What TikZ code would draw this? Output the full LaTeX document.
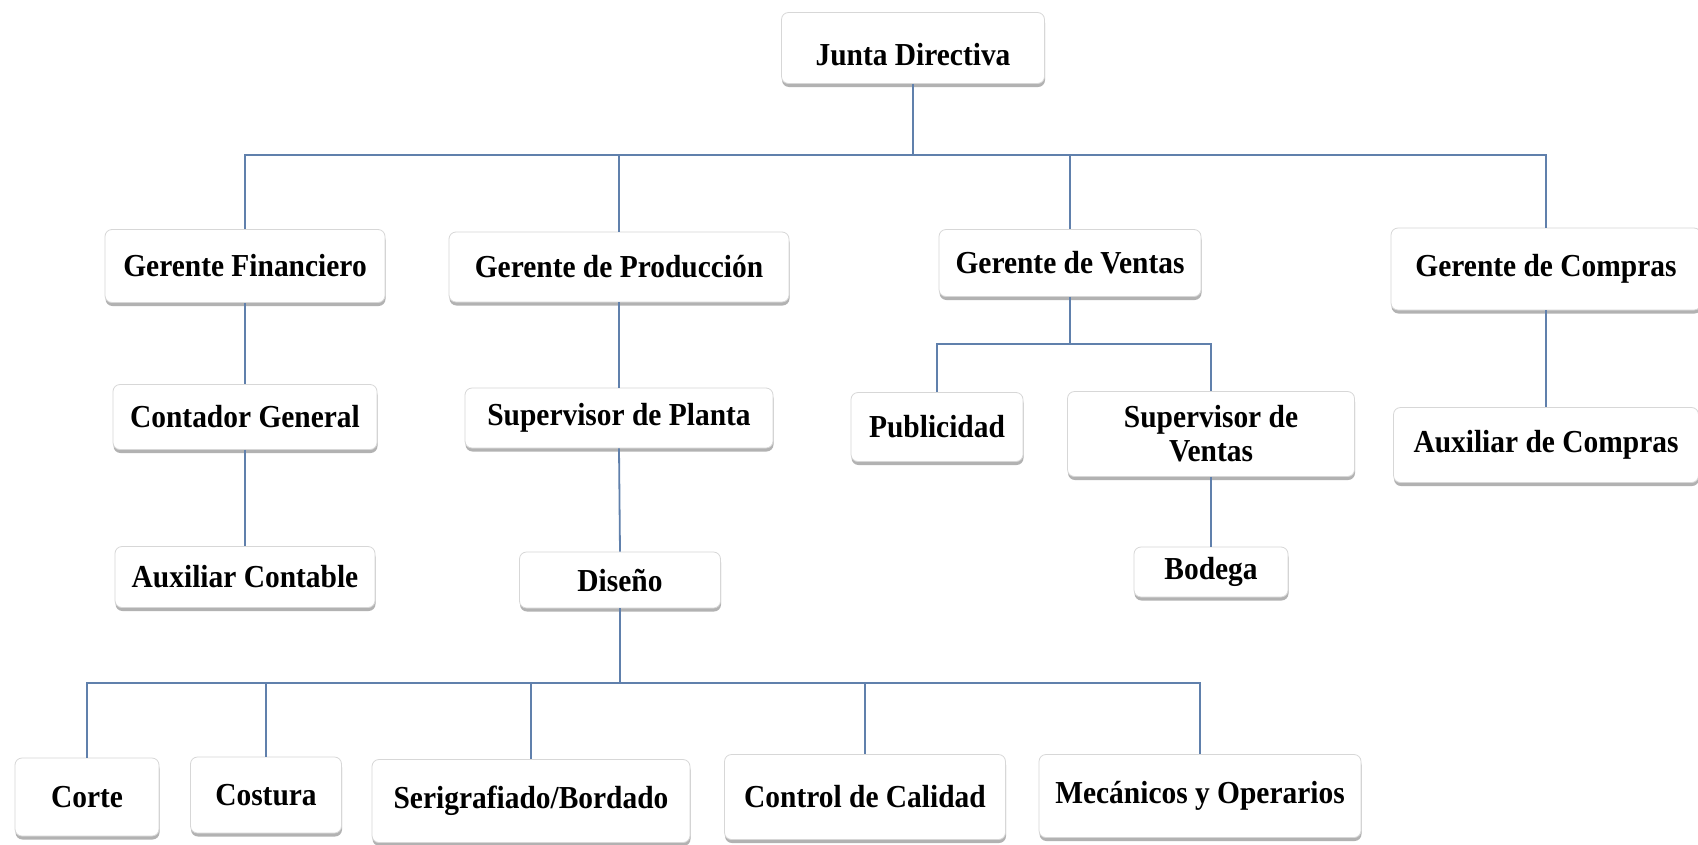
\documentclass[tikz,border=0pt]{standalone}
\usepackage{fontspec}
\setmainfont{Liberation Serif}[FakeStretch=0.92]
\usetikzlibrary{shadows}
\definecolor{linec}{RGB}{96,128,172}
\definecolor{boxline}{RGB}{215,215,215}
\tikzset{
  orgbox/.style={draw=boxline, line width=0.8pt, fill=white, rounded corners=7pt,
    drop shadow={shadow xshift=0.5pt, shadow yshift=-3.5pt, fill=black!55, opacity=0.55},
    inner sep=0pt, align=center,
    font=\fontsize{32}{34}\selectfont\bfseries},
  conn/.style={draw=linec, line width=1.8pt},
}
\newcommand{\ob}[6]{\node[orgbox, minimum width=#4pt, minimum height=#5pt] (#1) at (#2,#3) {#6};}
\begin{document}
\begin{tikzpicture}[x=1pt,y=-1pt]
\fill[white] (0,0) rectangle (1698,844);
\useasboundingbox (0,0) rectangle (1698,844);
\coordinate (b1) at (913,155);
\coordinate (b2) at (620,683);
\coordinate (b3) at (1070,344);
% nodes
\ob{JD}{913}{48}{263}{71}{\raisebox{-17pt}[0pt][0pt]{Junta Directiva}}
\ob{GF}{245}{266}{280}{73}{Gerente Financiero}
\ob{GP}{619}{267}{340}{70}{Gerente de Producción}
\ob{GV}{1070}{263}{262}{67}{Gerente de Ventas}
\ob{GC}{1546}{269}{310}{82}{Gerente de Compras}
\ob{CG}{245}{417}{264}{65}{Contador General}
\ob{SP}{619}{418}{308}{60}{Supervisor de Planta}
\ob{PU}{937}{427}{172}{69}{Publicidad}
\ob{SV}{1211}{434}{287}{85}{Supervisor de\\Ventas}
\ob{AC}{1546}{445}{305}{75}{Auxiliar de Compras}
\ob{AX}{245}{577}{260}{61}{Auxiliar Contable}
\ob{DI}{620}{580}{201}{56}{Diseño}
\ob{BO}{1211}{572}{154}{50}{Bodega}
\ob{CO}{87}{797}{144}{78}{Corte}
\ob{CS}{266}{795}{151}{76}{Costura}
\ob{SB}{531}{801}{318}{83}{Serigrafiado/Bordado}
\ob{CC}{865}{797}{281}{85}{Control de Calidad}
\ob{MO}{1200}{796}{322}{83}{Mecánicos y Operarios}
% connectors
\draw[conn] (JD.south) -- (b1);
\draw[conn] (b1) -| (GF.north);
\draw[conn] (b1) -| (GP.north);
\draw[conn] (b1) -| (GV.north);
\draw[conn] (b1) -| (GC.north);
\draw[conn] (GF.south) -- (CG.north);
\draw[conn] (CG.south) -- (AX.north);
\draw[conn] (GP.south) -- (SP.north);
\draw[conn] (SP.south) -- (DI.north);
\draw[conn] (DI.south) -- (b2);
\draw[conn] (b2) -| (CO.north);
\draw[conn] (b2) -| (CS.north);
\draw[conn] (b2) -| (SB.north);
\draw[conn] (b2) -| (CC.north);
\draw[conn] (b2) -| (MO.north);
\draw[conn] (GV.south) -- (b3);
\draw[conn] (b3) -| (PU.north);
\draw[conn] (b3) -| (SV.north);
\draw[conn] (SV.south) -- (BO.north);
\draw[conn] (GC.south) -- (AC.north);
\end{tikzpicture}
\end{document}
